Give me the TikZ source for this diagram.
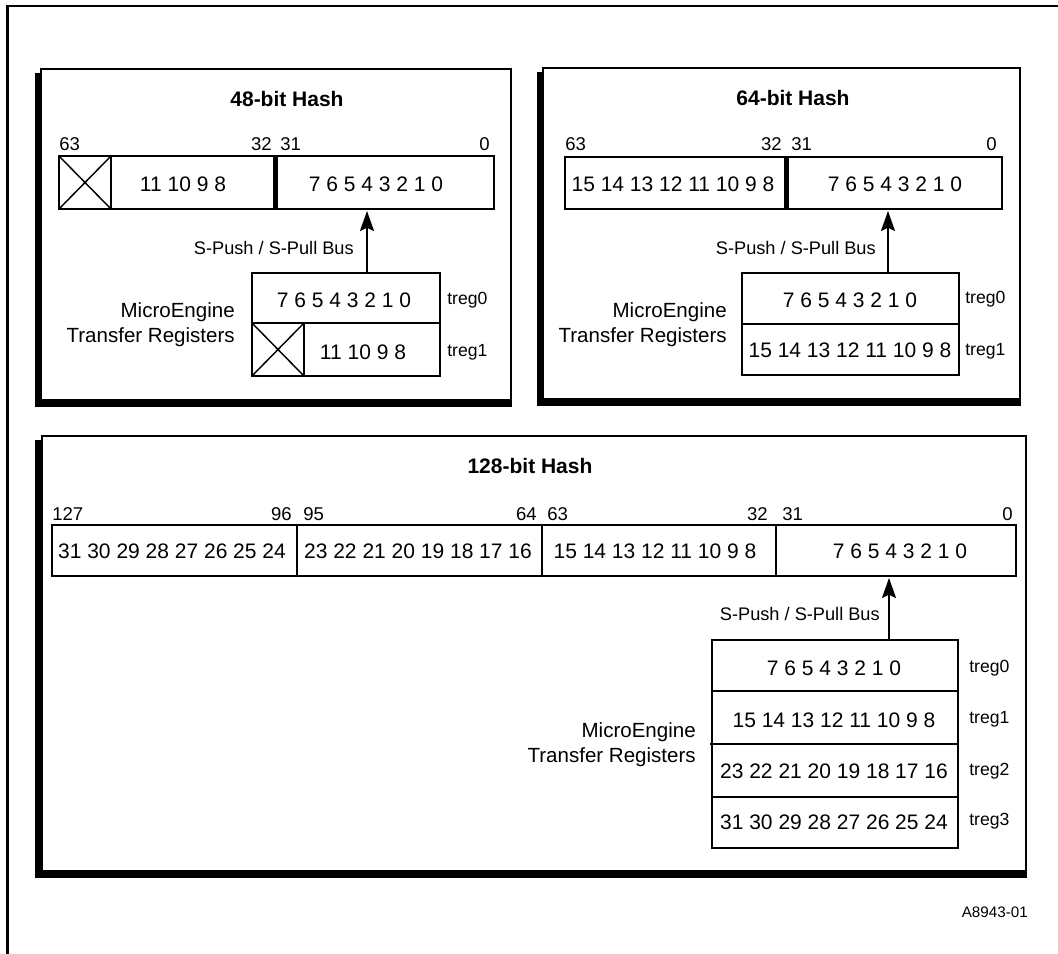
\documentclass[tikz,border=0pt]{standalone}
\usepackage{fontspec}
\setmainfont{Liberation Sans}
\usetikzlibrary{arrows.meta}
\tikzset{
  panel/.style={draw, line width=1.5pt},
  shadow/.style={fill=black},
  cell/.style={draw, line width=1.5pt},
  xline/.style={line width=1.1pt},
  thickdiv/.style={line width=3.75pt},
  num/.style={font=\fontsize{15.75}{18}\selectfont, inner sep=0pt, anchor=base},
  bitlbl/.style={font=\fontsize{13.9}{16}\selectfont, inner sep=0pt},
  ttl/.style={font=\bfseries\fontsize{15.75}{18}\selectfont, inner sep=0pt, anchor=base},
  bus/.style={font=\fontsize{13.65}{16}\selectfont, inner sep=0pt, anchor=base east},
  eng/.style={font=\fontsize{15.4}{18.75}\selectfont, inner sep=0pt, align=right, anchor=base east},
  treg/.style={font=\fontsize{13.2}{15}\selectfont, inner sep=0pt, anchor=base west},
  busarrow/.style={line width=1.5pt, -{Stealth[length=15pt,width=10.5pt,inset=2.5pt]}},
}
\begin{document}
\begin{tikzpicture}[x=0.75pt,y=-0.75pt]
\useasboundingbox (0,0) rectangle (1058,954);
% outer frame
\draw[line width=1.7pt] (7.5,954) -- (7.5,6) -- (1058,6);

% ===== Panel 1: 48-bit =====
\fill[shadow] (34.5,73) rectangle (41,406.5);
\fill[shadow] (34.5,400) rectangle (512,406.5);
\draw[panel] (41,69) rectangle (511,400);
\node[ttl] (t48) at (287,106) {48-bit Hash};
\node[bitlbl, anchor=base west] (a63) at (59,150) {63};
\node[bitlbl, anchor=base east] (a32) at (272,150) {32};
\node[bitlbl, anchor=base west] (a31) at (280,150) {31};
\node[bitlbl, anchor=base east] (a0) at (490,150) {0};
\draw[cell] (59,156) rectangle (494,209);
\draw[cell] (59,156) rectangle (111,209);
\draw[xline] (59,156) -- (111,209) (59,209) -- (111,156);
\draw[thickdiv] (275,156) -- (275,209);
\node[num] (a1t) at (183,191) {11 10 9 8};
\node[num] (a0t) at (376,191) {7 6 5 4 3 2 1 0};
\coordinate (a1s) at (367,273);
\coordinate (a1e) at (367,211);
\draw[busarrow] (a1s) -- (a1e);
\node[bus] (abus) at (354,254) {S-Push / S-Pull Bus};
\draw[cell] (252,273) rectangle (440,376);
\draw[cell] (252,323) -- (440,323);
\draw[cell] (252,323) rectangle (304,376);
\draw[xline] (252,323) -- (304,376) (252,376) -- (304,323);
\node[num] (ar0) at (344,307) {7 6 5 4 3 2 1 0};
\node[num] (ar1) at (363,359) {11 10 9 8};
\node[treg] (atr0) at (447,304) {treg0};
\node[treg] (atr1) at (447,356) {treg1};
\node[eng] (aeng) at (235,342) {MicroEngine\\Transfer Registers};

% ===== Panel 2: 64-bit =====
\fill[shadow] (536.5,72) rectangle (543,405.5);
\fill[shadow] (536.5,399) rectangle (1021,405.5);
\draw[panel] (543,68) rectangle (1020,399);
\node[ttl] (t64) at (793,105) {64-bit Hash};
\node[bitlbl, anchor=base west] (b63) at (565,150) {63};
\node[bitlbl, anchor=base east] (b32) at (782,150) {32};
\node[bitlbl, anchor=base west] (b31) at (791,150) {31};
\node[bitlbl, anchor=base east] (b0) at (997,150) {0};
\draw[cell] (565,157) rectangle (1002,209);
\draw[thickdiv] (786,157) -- (786,209);
\node[num] (b1t) at (673,191) {15 14 13 12 11 10 9 8};
\node[num] (b0t) at (895,191) {7 6 5 4 3 2 1 0};
\coordinate (b1s) at (888,273);
\coordinate (b1e) at (888,211);
\draw[busarrow] (b1s) -- (b1e);
\node[bus] (bbus) at (876,254) {S-Push / S-Pull Bus};
\draw[cell] (742,273) rectangle (959,375);
\draw[cell] (742,324) -- (959,324);
\node[num] (br0) at (850,307) {7 6 5 4 3 2 1 0};
\node[num] (br1) at (850,357) {15 14 13 12 11 10 9 8};
\node[treg] (btr0) at (965,303) {treg0};
\node[treg] (btr1) at (965,355) {treg1};
\node[eng] (beng) at (727,342) {MicroEngine\\Transfer Registers};

% ===== Panel 3: 128-bit =====
\fill[shadow] (35,440) rectangle (42,877.5);
\fill[shadow] (35,871) rectangle (1027,877.5);
\draw[panel] (42,436) rectangle (1026,871);
\node[ttl] (t128) at (530,473) {128-bit Hash};
\node[bitlbl, anchor=base west] (c127) at (52,520) {127};
\node[bitlbl, anchor=base east] (c96) at (292,520) {96};
\node[bitlbl, anchor=base west] (c95) at (303,520) {95};
\node[bitlbl, anchor=base east] (c64) at (537,520) {64};
\node[bitlbl, anchor=base west] (c63) at (547,520) {63};
\node[bitlbl, anchor=base east] (c32) at (768,520) {32};
\node[bitlbl, anchor=base west] (c31) at (782,520) {31};
\node[bitlbl, anchor=base east] (c0) at (1013,520) {0};
\draw[cell] (52,525) rectangle (1016,576);
\draw[cell] (297,525) -- (297,576);
\draw[cell] (542,525) -- (542,576);
\draw[cell] (776,525) -- (776,576);
\node[num] (c3t) at (172,558) {31 30 29 28 27 26 25 24};
\node[num] (c2t) at (418,558) {23 22 21 20 19 18 17 16};
\node[num] (c1t) at (655,558) {15 14 13 12 11 10 9 8};
\node[num] (c0t) at (900,558) {7 6 5 4 3 2 1 0};
\coordinate (c1s) at (889,640);
\coordinate (c1e) at (889,578);
\draw[busarrow] (c1s) -- (c1e);
\node[bus] (cbus) at (880,620) {S-Push / S-Pull Bus};
\draw[cell] (712,640) rectangle (958,848);
\draw[cell] (712,691) -- (958,691);
\draw[cell] (710,744) -- (958,744);
\draw[cell] (712,797) -- (958,797);
\node[num] (cr0) at (834,675) {7 6 5 4 3 2 1 0};
\node[num] (cr1) at (834,727) {15 14 13 12 11 10 9 8};
\node[num] (cr2) at (834,778) {23 22 21 20 19 18 17 16};
\node[num] (cr3) at (834,829) {31 30 29 28 27 26 25 24};
\node[treg] (ctr0) at (969,672) {treg0};
\node[treg] (ctr1) at (969,723) {treg1};
\node[treg] (ctr2) at (969,775) {treg2};
\node[treg] (ctr3) at (969,825) {treg3};
\node[eng] (ceng) at (696,762) {MicroEngine\\Transfer Registers};

\node[font=\fontsize{11.4}{13}\selectfont, inner sep=0pt, anchor=base east] (fig) at (1028,917) {A8943-01};
\end{tikzpicture}
\end{document}
